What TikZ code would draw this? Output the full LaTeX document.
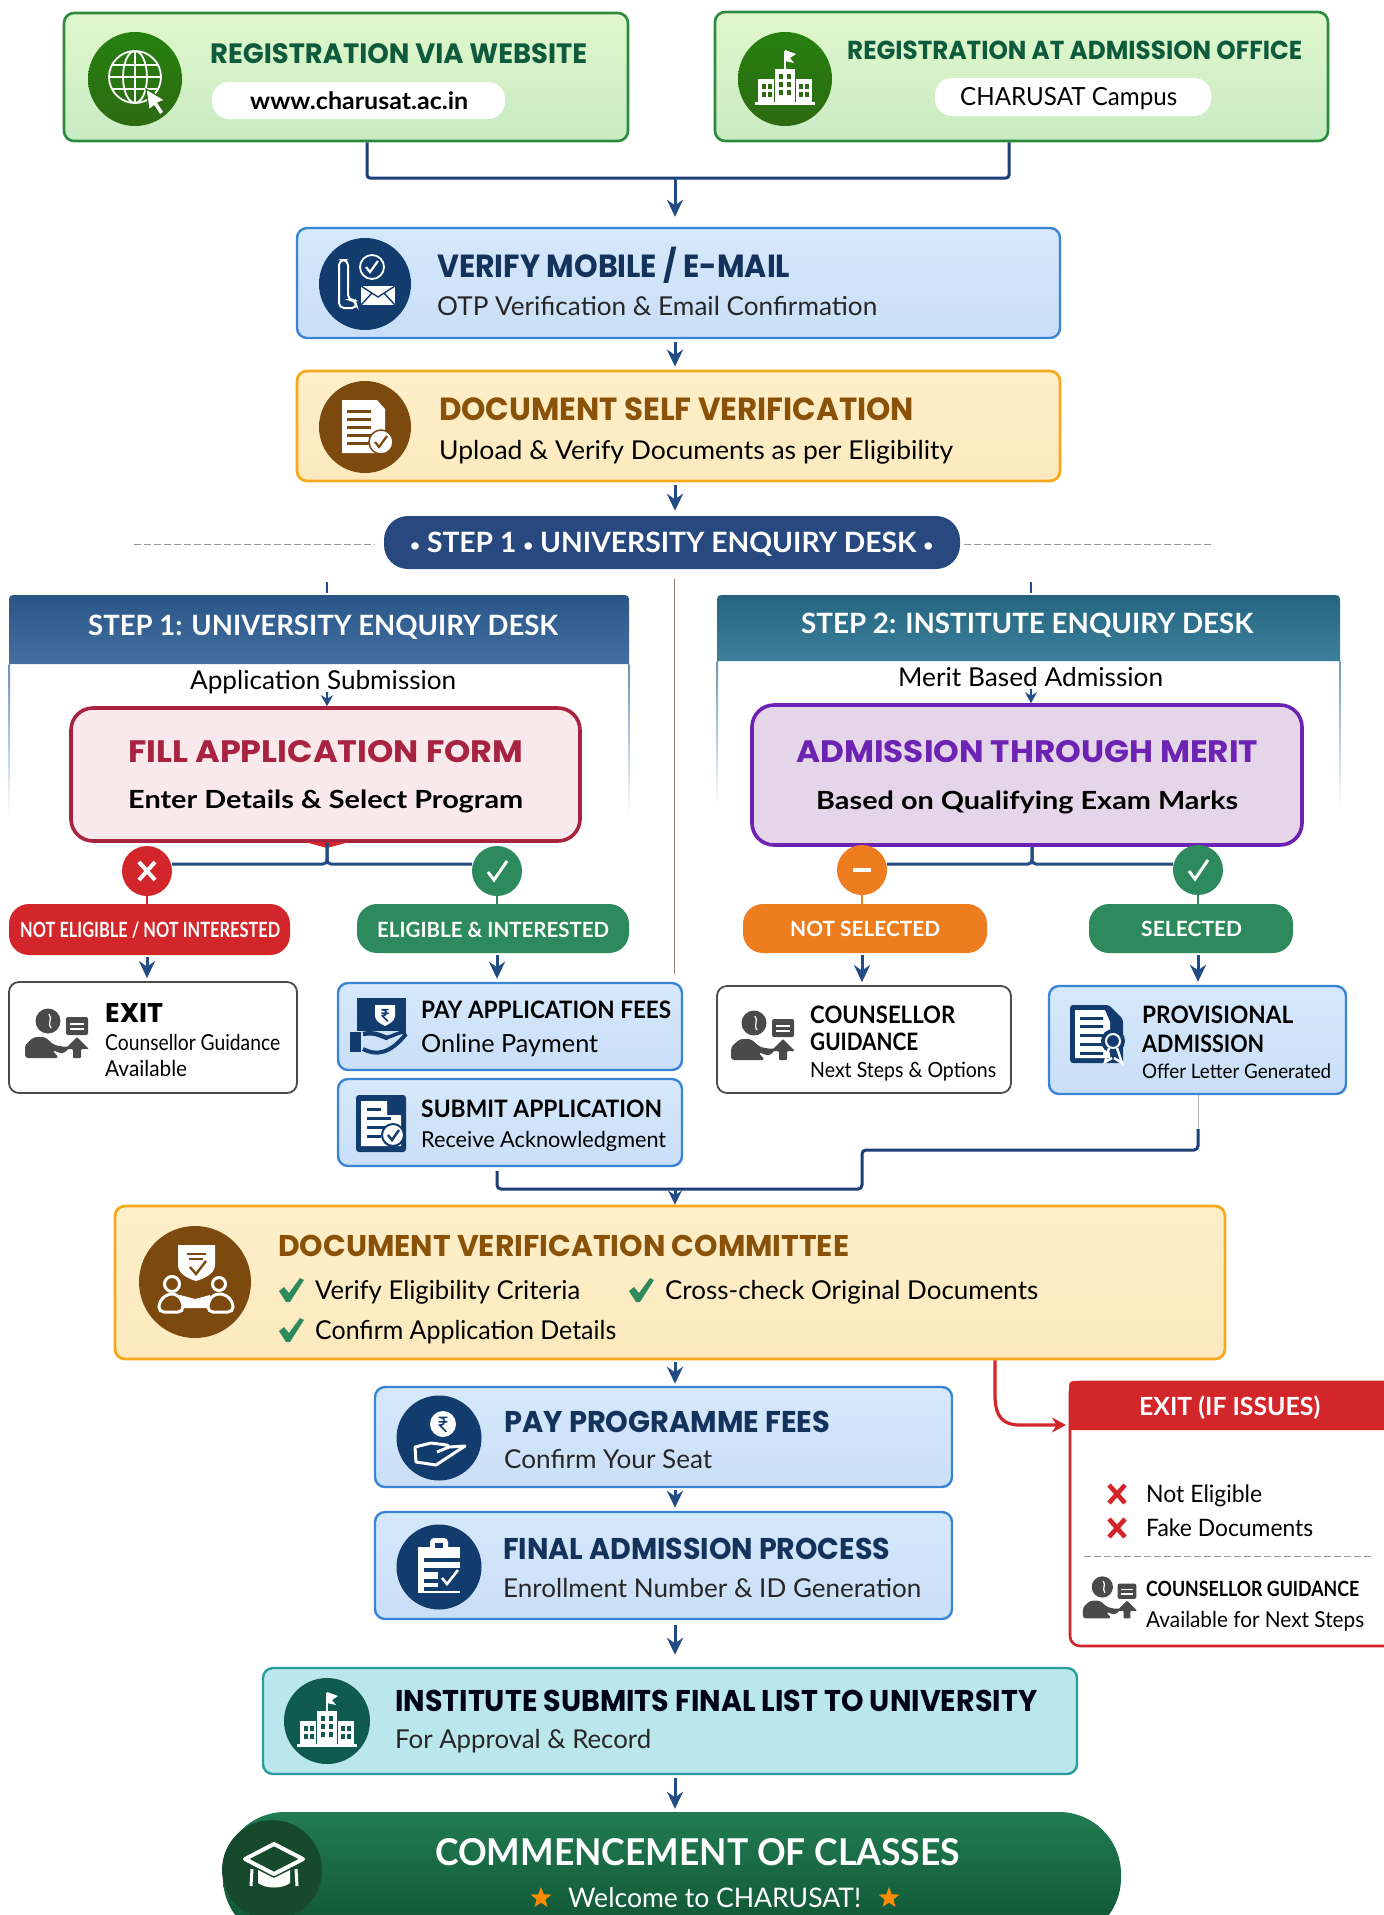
\documentclass[tikz,border=0pt]{standalone}
\usepackage{fontspec}
\usepackage{graphicx}
\usetikzlibrary{arrows.meta,shapes.geometric,calc}
\setmainfont{Lato}
\newfontfamily\titlef{Poppins}
\newfontfamily\bodyf{Lato}
\definecolor{navy}{HTML}{1C3F78}
\definecolor{arrowc}{HTML}{234C85}
\definecolor{dkgrey}{HTML}{4A4A4A}
\definecolor{gborder}{HTML}{2C8B3C}
\definecolor{gtop}{HTML}{E0F8CB}
\definecolor{gbot}{HTML}{C8EAC3}
\definecolor{gtitle}{HTML}{0E5A3C}
\definecolor{gicon}{HTML}{2D6A12}
\definecolor{bborder}{HTML}{3A84D6}
\definecolor{btop}{HTML}{D6E8FB}
\definecolor{bbot}{HTML}{C9DFF7}
\definecolor{btitle}{HTML}{14335C}
\definecolor{bicon}{HTML}{123B6E}
\definecolor{yborder}{HTML}{F6A91E}
\definecolor{ytop}{HTML}{FEEFC9}
\definecolor{ybot}{HTML}{FCE9BE}
\definecolor{ytitle}{HTML}{8A5209}
\definecolor{yicon}{HTML}{7C4A0E}
\definecolor{head1}{HTML}{2F5F97}
\definecolor{head2}{HTML}{28718F}
\definecolor{rborder}{HTML}{A8233F}
\definecolor{rfill}{HTML}{F9E8EC}
\definecolor{pborder}{HTML}{6C22B2}
\definecolor{pfill}{HTML}{E5D5E8}
\definecolor{redc}{HTML}{D3262B}
\definecolor{greenc}{HTML}{2C8A5C}
\definecolor{orangec}{HTML}{EE7D1F}
\definecolor{tfill}{HTML}{BAE7EB}
\definecolor{tborder}{HTML}{2A9C9C}
\definecolor{ticon}{HTML}{0F5B50}
\definecolor{classtop}{HTML}{217C52}
\definecolor{classbot}{HTML}{0F5232}
\definecolor{capdisc}{HTML}{17492C}
\newsavebox\txbox
\newcommand{\fitw}[3]{\sbox\txbox{\fontsize{#2}{#2}\selectfont #3}\pgfmathsetmacro\sxf{(#1)/\the\wd\txbox}\scalebox{\sxf}[1]{\usebox\txbox}}
\newcommand{\tx}[7]{\pgfmathsetmacro\basey{#4+0.35*#5}\node[anchor=base west,inner sep=0,text=#6] (#1) at (#2,\basey) {\fitw{#3-#2}{#5}{#7}};}
\newcommand{\tb}[7]{\tx{#1}{#2}{#3}{#4}{#5}{#6}{\titlef\bfseries #7}}
\newcommand{\tr}[7]{\tx{#1}{#2}{#3}{#4}{#5}{#6}{\bodyf #7}}
\newcommand{\tm}[7]{\tx{#1}{#2}{#3}{#4}{#5}{#6}{\bodyf\bfseries #7}}
\newcommand{\bx}[6]{\node[#6,minimum width={#4-#2},minimum height={#5-#3},inner sep=0] (#1) at ({(#2+#4)/2},{(#3+#5)/2}) {};}
\newcommand{\toprect}[5]{\path[#5] (#1,#4) -- ({#1},{#2+9}) .. controls (#1,#2) and (#1,#2) .. ({#1+9},#2) -- ({#3-9},#2) .. controls (#3,#2) and (#3,#2) .. (#3,{#2+9}) -- (#3,#4) -- cycle;}
\newcommand{\smallbul}{{\fontsize{17}{17}\selectfont\raisebox{1.5pt}{•}}}
\tikzset{
 gbox/.style={draw=gborder,line width=2.6,rounded corners=10,top color=gtop,bottom color=gbot},
 bbox/.style={draw=bborder,line width=2.4,rounded corners=10,top color=btop,bottom color=bbot},
 ybox/.style={draw=yborder,line width=2.8,rounded corners=10,top color=ytop,bottom color=ybot},
 tbox/.style={draw=tborder,line width=2.4,rounded corners=10,fill=tfill},
 wbox/.style={draw=dkgrey,line width=1.8,rounded corners=10,fill=white},
 rbox/.style={draw=rborder,line width=3.6,rounded corners=22,fill=rfill},
 pbox/.style={draw=pborder,line width=3.6,rounded corners=22,fill=pfill},
 whitepill/.style={fill=white,rounded corners=17},
 pill/.style={rounded corners=20},
 disc/.style={circle,inner sep=0},
 flow/.style={draw=arrowc,line width=3,-{Stealth[length=17,width=16]}},
 plainline/.style={draw=navy,line width=3},
 sideline/.style={draw=arrowc,line width=2.6},
 dashline/.style={draw=gray!80,line width=1,dash pattern=on 7pt off 3pt},
}
% icons
\newcommand{\iconglobe}[2]{\begin{scope}[shift={(#1,#2)},draw=white,line width=1.8]
 \draw (0,-2) circle[radius=26];
 \draw (0,-2) ellipse[x radius=12,y radius=26];
 \draw (0,-28)--(0,24) (-26,-2)--(26,-2) (-22,-14)--(22,-14) (-22,10)--(22,10);
 \fill[white,draw=gicon,line width=1.2] (11,10)--(30,21)--(23,24)--(29,33)--(25,36)--(19,27)--(14,31)--cycle;
\end{scope}}
\newcommand{\iconbuilding}[3]{\begin{scope}[shift={(#1,#2)}]
 \fill[white] (-10,-10) rectangle (10,23);
 \fill[white] (-27,0) rectangle (-11,23);
 \fill[white] (11,0) rectangle (27,23);
 \fill[white] (-30,23) rectangle (30,26);
 \draw[white,line width=1.6] (0,-10)--(0,-28);
 \fill[white] (0,-29)--(11,-25)--(5,-21)--(9,-16)--(0,-18)--cycle;
 \foreach \xx in {-23,-17,14,20}{\foreach \yy in {5,13}{\fill[#3] (\xx,\yy) rectangle ++(4,5);}}
 \foreach \xx in {-6,2}{\foreach \yy in {-5,3,11}{\fill[#3] (\xx,\yy) rectangle ++(4,5);}}
\end{scope}}
\newcommand{\iconphone}[2]{\begin{scope}[shift={(#1,#2)}]
 \draw[white,line width=2,rounded corners=5] (-17,-24)--(-26,-24)--(-26,24)--(-8,24)--(-10,16)--(-17,16)--cycle;
 \draw[white,line width=1.8] (7,-17) circle[radius=12];
 \draw[white,line width=2.2] (1,-17)--(5,-12)--(13,-23);
 \fill[white] (-4,2) rectangle (30,21);
 \draw[bicon,line width=1.4] (-4,2)--(13,13)--(30,2) (-4,21)--(7,9) (30,21)--(19,9);
\end{scope}}
\newcommand{\icondoc}[2]{\begin{scope}[shift={(#1,#2)}]
 \fill[white] (-23,-27)--(12,-27)--(20,-18)--(20,26)--(-23,26)--cycle;
 \foreach \yy in {-17,-9,-1,7,15}{\fill[yicon] (-18,\yy) rectangle (6,{\yy+3});}
 \fill[white,draw=yicon,line width=1.5] (16,15) circle[radius=12];
 \draw[yicon,line width=2.2] (10,15)--(14,20)--(22,9);
\end{scope}}
\newcommand{\iconcommittee}[2]{\begin{scope}[shift={(#1,#2)}]
 \fill[white] (-17,-37)--(20,-37)--(20,-17) .. controls (20,-8) and (8,-3) .. (1,-1) .. controls (-6,-3) and (-17,-8) .. (-17,-17)--cycle;
 \draw[yicon,line width=2] (-8,-28)--(11,-28) (-6,-23)--(8,-23);
 \draw[yicon,line width=2.4] (-5,-15)--(1,-8)--(11,-21);
 \fill[white] (-15,13)--(0,17)--(15,13)--(15,26)--(-15,26)--cycle;
 \draw[white,line width=3,fill=yicon,rounded corners=5] (-36,30)--(-36,20)--(-28,12)--(-18,12)--(-12,20)--(-12,30)--cycle;
 \draw[white,line width=3,fill=yicon,rounded corners=5] (13,30)--(13,20)--(19,12)--(30,12)--(38,20)--(38,30)--cycle;
 \draw[white,line width=3] (-23,2) circle[radius=7.5] (24,2) circle[radius=6.5];
\end{scope}}
\newcommand{\rupee}[4]{\begin{scope}[shift={(#1,#2)},scale=#3]
 \draw[#4,line width=1.6] (-4,-6)--(4,-6) (-4,-2)--(4,-2) (-3,-6) .. controls (3,-6) and (3,1) .. (-3,1) -- (3,7);
\end{scope}}
\newcommand{\iconhand}[2]{\begin{scope}[shift={(#1,#2)}]
 \fill[white] (4,-14) circle[radius=13];
 \rupee{4}{-14}{1.1}{bicon}
 \draw[white,line width=3,line join=round] (-8,5)--(-24,9)--(-23,24)--(-3,27)--(26,8)--(10,9)--(-2,14) (-8,5)--(8,7)--(10,9);
\end{scope}}
\newcommand{\iconclip}[2]{\begin{scope}[shift={(#1,#2)}]
 \fill[white] (-21,-20) rectangle (21,26);
 \fill[white,rounded corners=4] (-9,-29) rectangle (9,-15);
 \fill[bicon] (-4,-24) rectangle (4,-19);
 \foreach \yy in {-9,1,12,20}{\fill[bicon] (-15,\yy) rectangle (21,{\yy+3.5});}
 \fill[bicon] (-1,3) rectangle (21,23);
 \draw[white,line width=2.6] (3,11)--(8,17)--(19,3);
\end{scope}}
\newcommand{\iconcap}[2]{\begin{scope}[shift={(#1,#2)}]
 \draw[white,line width=4,line join=round] (0,-24)--(29,-9)--(0,6)--(-29,-9)--cycle;
 \fill[white] (-16,2)--(0,10)--(16,2)--(16,15) .. controls (8,21) and (-8,21) .. (-16,15)--cycle;
 \draw[white,line width=3] (-22,1)--(-23,18) (22,1)--(23,18);
\end{scope}}
\newcommand{\iconcounsel}[3]{\begin{scope}[shift={(#1,#2)},scale=#3]
 \fill[dkgrey] (-9,-13) circle[radius=12.5];
 \draw[white,line width=1.2] (-8,-20) .. controls (-4,-15) and (-10,-12) .. (-6,-6);
 \fill[dkgrey,rounded corners=2] (9,-17) rectangle (31,1);
 \fill[white] (13,-11) rectangle (27,-9);
 \fill[white] (13,-6) rectangle (27,-4);
 \fill[dkgrey,rounded corners=3] (-32,24)--(-32,11)--(-23,3)--(-12,3)--(-3,11)--(8,13)--(14,12)--(6,20)--(-5,16)--(2,24)--cycle;
 \fill[dkgrey,rounded corners=1] (20,3)--(32,15)--(24,15)--(24,24)--(16,24)--(16,15)--(8,15)--cycle;
\end{scope}}
\newcommand{\iconsubmit}[2]{\begin{scope}[shift={(#1,#2)}]
 \fill[bicon,rounded corners=3] (-25,-28) rectangle (25,29);
 \fill[white] (-20,-22)--(6,-22)--(6,-8)--(20,-8)--(20,23)--(-20,23)--cycle;
 \fill[bicon] (-14,-15) rectangle (0,-12);
 \fill[bicon] (-14,-6) rectangle (10,-3);
 \fill[bicon] (-14,3) rectangle (10,6);
 \fill[bicon] (-14,12) rectangle (0,15);
 \fill[white,draw=bicon,line width=2] (12,12) circle[radius=11];
 \draw[bicon,line width=2.4] (7,12)--(11,17)--(18,7);
\end{scope}}
\newcommand{\iconprov}[2]{\begin{scope}[shift={(#1,#2)}]
 \fill[bicon,rounded corners=3] (-25,-29)--(14,-29)--(28,-15)--(28,29)--(-25,29)--cycle;
 \fill[white] (-20,-24)--(10,-24)--(15,-12)--(15,24)--(-20,24)--cycle;
 \foreach \yy in {-17,-9,0,9,18}{\fill[bicon] (-15,\yy) rectangle (8,{\yy+3});}
 \fill[bicon] (18,7) circle[radius=12];
 \draw[white,line width=2] (18,7) circle[radius=7];
 \draw[white,line width=2.4] (14,14)--(10,28)--(17,24) (22,14)--(27,29)--(19,24);
\end{scope}}
\newcommand{\iconpay}[2]{\begin{scope}[shift={(#1,#2)}]
 \fill[bicon] (-23,-27) rectangle (26,6);
 \fill[white] (-5,-20)--(15,-20)--(15,-9) .. controls (15,-4) and (9,-1) .. (5,1) .. controls (1,-1) and (-5,-4) .. (-5,-9)--cycle;
 \rupee{5}{-10}{.9}{bicon}
 \fill[bicon] (-30,7) rectangle (-19,27);
 \draw[bicon,line width=4.5] (-17,9) .. controls (-4,6) and (4,13) .. (8,13);
 \draw[bicon,line width=3.5] (5,13) .. controls (14,11) and (18,7) .. (26,7);
 \draw[bicon,line width=4] (-17,24) .. controls (-4,31) and (10,29) .. (26,9);
\end{scope}}
\newcommand{\gtick}[2]{\fill[greenc] (#1-12,#2+1)--(#1-7,#2-3)--(#1-2,#2+3)--(#1+9,#2-12)--(#1+13,#2-10)--(#1-1,#2+12)--(#1-5,#2+12)--cycle;}
\newcommand{\rcross}[2]{\draw[redc,line width=4.6] ({#1-8},{#2-9})--({#1+8},{#2+9}) ({#1+8},{#2-9})--({#1-8},{#2+9});}
\begin{document}
\begin{tikzpicture}[x=1pt,y=-1pt]
\useasboundingbox (0,0) rectangle (1384,1915);
\clip (0,0) rectangle (1384,1915);
\coordinate (spine) at (675,0);
% top boxes
\bx{reg1}{64}{13}{628}{141}{gbox}
\bx{reg2}{715}{12}{1328}{141}{gbox}
\node[disc,top color=gicon!85!green,bottom color=gicon,minimum size=94] (ic1) at (135,79) {};
\iconglobe{135}{79}
\node[disc,top color=gicon!85!green,bottom color=gicon,minimum size=94] (ic2) at (785,79) {};
\iconbuilding{785}{79}{gicon}
\bx{pill1}{212}{82}{505}{119}{whitepill}
\bx{pill2}{935}{78}{1211}{116}{whitepill}
\tb{t1}{210}{587}{54}{28}{gtitle}{REGISTRATION VIA WEBSITE}
\tm{t1b}{250}{468}{101}{24}{black}{www.charusat.ac.in}
\tb{t2}{847}{1302}{50}{26}{gtitle}{REGISTRATION AT ADMISSION OFFICE}
\tr{t2b}{960}{1177}{97}{25}{black}{CHARUSAT Campus}
% merge
\coordinate (m1) at (367,178);
\coordinate (m2) at (1009,178);
\coordinate (mj) at (675,178);
\draw[plainline,rounded corners=3] (reg1.south -| m1) -- (m1) -- (m2) -- (reg2.south -| m2);
% verify
\bx{verify}{297}{228}{1060}{338}{bbox}
\draw[flow,shorten >=10] (mj) -- (verify.north -| spine);
\node[disc,fill=bicon,minimum size=92] (ic3) at (365,284) {};
\iconphone{365}{284}
\tb{t3}{437}{790}{266}{32}{btitle}{VERIFY MOBILE / E-MAIL}
\tr{t3b}{437}{877}{306}{26}{black!85}{OTP Verification \& Email Confirmation}
% doc self
\bx{docself}{297}{371}{1060}{481}{ybox}
\node[disc,fill=yicon,minimum size=92] (ic4) at (365,427) {};
\icondoc{365}{427}
\tb{t4}{439}{914}{409}{32}{ytitle}{DOCUMENT SELF VERIFICATION}
\tr{t4b}{439}{953}{450}{26}{black}{Upload \& Verify Documents as per Eligibility}
\draw[flow,shorten <=3,shorten >=3] (verify.south -| spine) -- (docself.north -| spine);
% step pill
\bx{steppill}{384}{516}{960}{569}{pill,fill=navy!95!white,rounded corners=24}
\tm{t5}{410}{933}{543}{28}{white}{\smallbul{} STEP 1 \smallbul{} UNIVERSITY ENQUIRY DESK \smallbul}
\draw[flow,shorten <=3,shorten >=5] (docself.south -| spine) -- (steppill.north -| spine);
\coordinate (dl1) at (134,544); \coordinate (dl2) at (375,544);
\coordinate (dr1) at (964,544); \coordinate (dr2) at (1211,544);
\draw[dashline] (dl1) -- (dl2);
\draw[dashline] (dr1) -- (dr2);
% ticks and centre line
\coordinate (tk1a) at (327,582); \coordinate (tk1b) at (327,593);
\coordinate (tk2a) at (1031,582); \coordinate (tk2b) at (1031,593);
\draw[sideline] (tk1a) -- (tk1b);
\draw[sideline] (tk2a) -- (tk2b);
\coordinate (cl1) at (674.5,579); \coordinate (cl2) at (674.5,974);
\draw[draw=gray!70!brown,line width=1.6] (cl1) -- (cl2);
% panels
\shade[top color=head1!70!white,bottom color=white] (8.6,664) rectangle (10,815);
\shade[top color=head1!70!white,bottom color=white] (628,664) rectangle (629.4,815);
\shade[top color=head2!70!white,bottom color=white] (716.6,661) rectangle (718,808);
\shade[top color=head2!70!white,bottom color=white] (1339,661) rectangle (1340.4,808);
\toprect{9}{595}{629}{664}{top color=head1!90!black,bottom color=head1!90!white}
\toprect{717}{595}{1340}{661}{top color=head2!90!black,bottom color=head2!90!white}
\tm{t6}{88}{558}{626}{28}{white}{STEP 1: UNIVERSITY ENQUIRY DESK}
\tm{t7}{801}{1253}{624}{28}{white}{STEP 2: INSTITUTE ENQUIRY DESK}
\tr{t6b}{190}{456}{680}{26}{black}{Application Submission}
\tr{t7b}{898}{1163}{677}{26}{black}{Merit Based Admission}
% main boxes
\bx{fillf}{71}{708}{580}{841}{rbox}
\bx{merit}{752}{705}{1302}{845}{pbox}
\tb{t8}{128}{523}{752}{31}{rborder}{FILL APPLICATION FORM}
\tm{t8b}{128}{523}{800}{25}{black}{Enter Details \& Select Program}
\tb{t9}{796}{1258}{752}{31}{pborder}{ADMISSION THROUGH MERIT}
\tm{t9b}{816}{1238}{801}{25}{black}{Based on Qualifying Exam Marks}
\coordinate (a1) at (327,692); \coordinate (a2) at (1031,689);
\draw[sideline,-{Stealth[length=11,width=12]}] (a1) -- (fillf.north -| a1);
\draw[sideline,-{Stealth[length=11,width=12]}] (a2) -- (merit.north -| a2);
\fill[redc] (305,842)--(349,842)--(327,848)--cycle;
% decision circles
\coordinate (b1) at (327,864); \coordinate (b2) at (1032,864);
\draw[plainline,rounded corners=4,draw=arrowc] (172,864) -- (b1) -- (fillf.south -| b1);
\draw[plainline,rounded corners=4,draw=arrowc] (472,864) -- (b1) -- (fillf.south -| b1);
\draw[plainline,rounded corners=4,draw=arrowc] (887,864) -- (b2) -- (merit.south -| b2);
\draw[plainline,rounded corners=4,draw=arrowc] (1173,864) -- (b2) -- (merit.south -| b2);
\node[disc,fill=redc,minimum size=50] (c1) at (147,871) {};
\node[disc,fill=greenc,minimum size=50] (c2) at (497,871) {};
\node[disc,fill=orangec,minimum size=50] (c3) at (862,870) {};
\node[disc,fill=greenc,minimum size=50] (c4) at (1198,870) {};
\draw[white,line width=4] (139,862)--(155,880) (155,862)--(139,880);
\draw[white,line width=3] (488,872)--(494,880)--(507,861);
\draw[white,line width=4] (853,870)--(871,870);
\draw[white,line width=3] (1189,871)--(1195,879)--(1208,860);
% pills
\bx{p1}{9}{904}{290}{955}{pill,fill=redc}
\bx{p2}{357}{904}{629}{953}{pill,fill=greenc}
\bx{p3}{743}{904}{987}{953}{pill,fill=orangec}
\bx{p4}{1089}{904}{1293}{953}{pill,fill=greenc}
\tm{t10}{20}{280}{930}{21}{white}{NOT ELIGIBLE / NOT INTERESTED}
\tm{t11}{377}{609}{930}{21}{white}{ELIGIBLE \& INTERESTED}
\tm{t12}{790}{940}{929}{21}{white}{NOT SELECTED}
\tm{t13}{1141}{1242}{929}{21}{white}{SELECTED}
\draw[redc,line width=2] (c1) -- (p1.north -| c1);
\draw[greenc,line width=2] (c2) -- (p2.north -| c2);
\draw[orangec,line width=2] (c3) -- (p3.north -| c3);
\draw[greenc,line width=2] (c4) -- (p4.north -| c4);
% lower side boxes
\bx{bexit}{9}{982}{297}{1093}{wbox}
\bx{bpay}{338}{983}{682}{1070}{bbox}
\bx{bsub}{338}{1079}{682}{1166}{bbox}
\bx{bcoun}{717}{986}{1011}{1093}{wbox}
\bx{bprov}{1049}{986}{1346}{1094}{bbox}
\draw[flow,shorten <=2,shorten >=3] (p1.south -| c1) -- (bexit.north -| c1);
\draw[flow,shorten <=2,shorten >=3] (p2.south -| c2) -- (bpay.north -| c2);
\draw[flow,shorten <=2,shorten >=3] (p3.south -| c3) -- (bcoun.north -| c3);
\draw[flow,shorten <=2,shorten >=3] (p4.south -| c4) -- (bprov.north -| c4);
\iconcounsel{57}{1034}{1}
\tb{t14}{105}{163}{1013}{27}{black}{EXIT}
\tr{t14b}{105}{280}{1043}{22}{black}{Counsellor Guidance}
\tr{t14c}{105}{187}{1069}{22}{black}{Available}
\iconpay{380}{1025}
\tm{t15}{421}{671}{1010}{24}{black}{PAY APPLICATION FEES}
\tr{t15b}{421}{598}{1044}{25}{black}{Online Payment}
\iconsubmit{381}{1123}
\tm{t16}{421}{662}{1109}{24}{black}{SUBMIT APPLICATION}
\tr{t16b}{421}{666}{1140}{22}{black}{Receive Acknowledgment}
\iconcounsel{763}{1036}{1}
\tm{t17}{810}{955}{1015}{24}{black}{COUNSELLOR}
\tm{t17b}{810}{918}{1042}{24}{black}{GUIDANCE}
\tr{t17c}{810}{996}{1070}{21}{black}{Next Steps \& Options}
\iconprov{1095}{1034}
\tm{t18}{1142}{1293}{1015}{24}{black}{PROVISIONAL}
\tm{t18b}{1142}{1264}{1044}{24}{black}{ADMISSION}
\tr{t18c}{1142}{1331}{1071}{20}{black}{Offer Letter Generated}
% committee
\bx{dvc}{115}{1206}{1225}{1359}{ybox}
\coordinate (j1) at (497,1189); \coordinate (j2) at (862,1189); \coordinate (j3) at (862,1150); \coordinate (j4) at (1198,1150); \coordinate (j5) at (1198,1129); \coordinate (j6) at (675,1189);
\draw[plainline,rounded corners=4] (bsub.south -| j1) ++(0,4) -- (j1) -- (j2) -- (j3) -- (j4) -- (j5);
\draw[gray!60,line width=1] (j5) -- (bprov.south -| j5);
\draw[flow,-{Stealth[length=14,width=14]}] (j6) -- (dvc.north -| j6);
\node[disc,fill=yicon,minimum size=112] (ic5) at (195,1282) {};
\iconcommittee{195}{1282}
\tb{t19}{278}{849}{1246}{30}{ytitle}{DOCUMENT VERIFICATION COMMITTEE}
\gtick{291}{1290}
\tr{t19a}{315}{580}{1290}{26}{black}{Verify Eligibility Criteria}
\gtick{641}{1290}
\tr{t19b}{665}{1038}{1290}{26}{black}{Cross-check Original Documents}
\gtick{291}{1330}
\tr{t19c}{315}{616}{1330}{26}{black}{Confirm Application Details}
% programme fees
\bx{bfees}{375}{1387}{952}{1487}{bbox}
\bx{bfinal}{375}{1512}{952}{1619}{bbox}
\bx{binst}{263}{1668}{1077}{1774}{tbox}
\bx{bclass}{223}{1812}{1121}{1940}{rounded corners=62,top color=classtop,bottom color=classbot}
\draw[flow,shorten <=2,shorten >=2] (dvc.south -| spine) -- (bfees.north -| spine);
\draw[flow,shorten <=2,shorten >=3] (bfees.south -| spine) -- (bfinal.north -| spine);
\draw[flow,shorten <=5,shorten >=12] (bfinal.south -| spine) -- (binst.north -| spine);
\draw[flow,shorten <=3,shorten >=3] (binst.south -| spine) -- (bclass.north -| spine);
\node[disc,fill=bicon,minimum size=85] (ic6) at (439,1438) {};
\iconhand{439}{1438}
\tb{t20}{504}{830}{1422}{30}{btitle}{PAY PROGRAMME FEES}
\tr{t20b}{504}{712}{1459}{26}{black!85}{Confirm Your Seat}
\node[disc,fill=bicon,minimum size=85] (ic7) at (439,1567) {};
\iconclip{439}{1567}
\tb{t21}{503}{890}{1549}{30}{btitle}{FINAL ADMISSION PROCESS}
\tr{t21b}{503}{921}{1588}{26}{black!85}{Enrollment Number \& ID Generation}
\node[disc,fill=ticon,minimum size=86] (ic8) at (327,1721) {};
\iconbuilding{327}{1721}{ticon}
\tb{t22}{395}{1037}{1701}{30}{black!90!blue}{INSTITUTE SUBMITS FINAL LIST TO UNIVERSITY}
\tr{t22b}{395}{651}{1739}{26}{black!85}{For Approval \& Record}
\node[disc,fill=capdisc,minimum size=100] (ic9) at (272,1870) {};
\iconcap{274}{1868}
\tm{t23}{435}{960}{1853}{37}{white}{COMMENCEMENT OF CLASSES}
\tr{t23b}{568}{861}{1898}{27}{white}{Welcome to CHARUSAT!}
\node[star,star points=5,star point ratio=2.4,fill=orange!90!yellow,minimum size=22,inner sep=0] (s1) at (541,1898) {};
\node[star,star points=5,star point ratio=2.4,fill=orange!90!yellow,minimum size=22,inner sep=0] (s2) at (889,1898) {};
% exit panel
\bx{bissues}{1070}{1382}{1400}{1646}{draw=redc,line width=2.6,fill=white,rounded corners=10}
\toprect{1069}{1381}{1400}{1430}{fill=redc}
\coordinate (r1) at (995,1395); \coordinate (r2) at (1020,1425); \coordinate (r3) at (1066,1425);
\draw[draw=redc,line width=3.2,-{Stealth[length=14,width=15]}] (dvc.south -| r1) -- (r1) .. controls (995,1417) and (1003,1425) .. (r2) -- (r3);
\tm{t24}{1139}{1320}{1407}{25}{white}{EXIT (IF ISSUES)}
\rcross{1117}{1494}
\tr{t24a}{1146}{1262}{1494}{24}{black}{Not Eligible}
\rcross{1117}{1528}
\tr{t24b}{1146}{1313}{1528}{24}{black}{Fake Documents}
\coordinate (ed1) at (1084,1556); \coordinate (ed2) at (1371,1556);
\draw[dashline] (ed1) -- (ed2);
\iconcounsel{1110}{1598}{.85}
\tm{t24c}{1146}{1359}{1589}{21}{black}{COUNSELLOR GUIDANCE}
\tr{t24d}{1146}{1364}{1620}{22}{black}{Available for Next Steps}
\end{tikzpicture}
\end{document}
